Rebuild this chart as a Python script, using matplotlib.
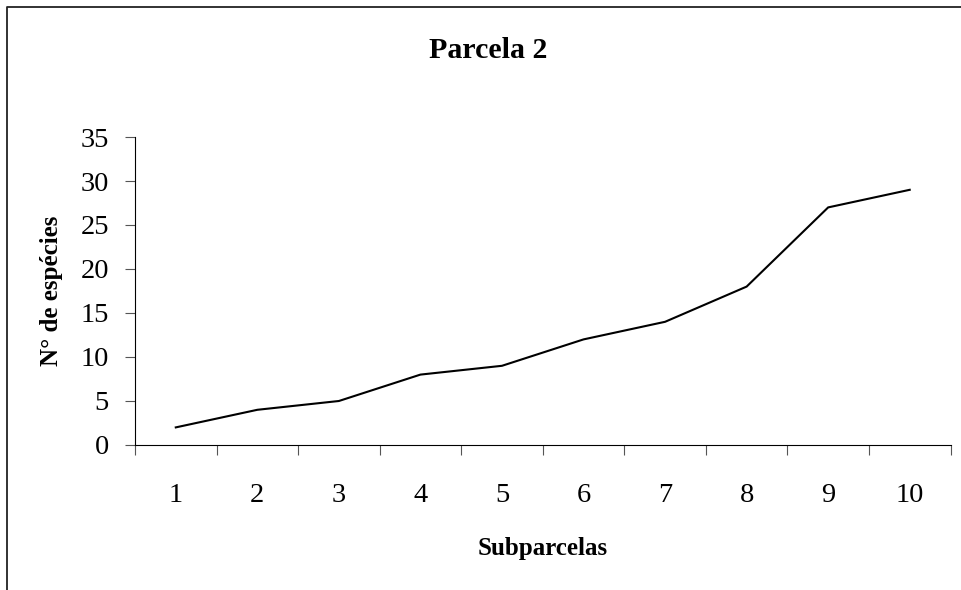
import matplotlib
matplotlib.use("Agg")
import matplotlib.pyplot as plt
from matplotlib.lines import Line2D
from matplotlib.ticker import FixedLocator, NullFormatter, FixedFormatter

plt.rcParams['font.family'] = ['Liberation Serif', 'DejaVu Serif']

title = "Parcela 2"
xlabel = "Subparcelas"
ylabel = "N° de espécies"
subparcelas = [1, 2, 3, 4, 5, 6, 7, 8, 9, 10]
especies = [2, 4, 5, 8, 9, 12, 14, 18, 27, 29]
yticks = [0, 5, 10, 15, 20, 25, 30, 35]

W, H = 961, 590
fig = plt.figure(figsize=(W / 100, H / 100), dpi=100)
fig.patch.set_facecolor('white')

left, right, top, bottom = 135, 950.5, 137, 445
ax = fig.add_axes([left / W, 1 - bottom / H, (right - left) / W, (bottom - top) / H])

ax.plot(subparcelas, especies, color='black', lw=1.5, solid_joinstyle='miter')

ax.set_xlim(0.5, 10.5)
ax.set_ylim(0, 35)

for s in ['top', 'right']:
    ax.spines[s].set_visible(False)
for s in ['left', 'bottom']:
    ax.spines[s].set_linewidth(0.8)
    ax.spines[s].set_color('black')

# x: boundary ticks (major, no labels), category labels (minor, no tick mark)
ax.xaxis.set_major_locator(FixedLocator([i + 0.5 for i in range(0, 11)]))
ax.xaxis.set_major_formatter(NullFormatter())
ax.xaxis.set_minor_locator(FixedLocator(subparcelas))
ax.xaxis.set_minor_formatter(FixedFormatter([str(v) for v in subparcelas]))
ax.tick_params(axis='x', which='major', direction='out', length=7.2, width=0.8, color='#555555')
ax.tick_params(axis='x', which='minor', length=0, pad=27.5, labelsize=20.5)

ax.set_yticks(yticks)
ax.set_yticklabels([str(v) for v in yticks])
ax.tick_params(axis='y', which='major', direction='out', length=7.2, width=0.8, color='#555555',
               pad=11.5, labelsize=20.5)

ax.set_xlabel(xlabel, fontsize=18, fontweight='bold')
ax.xaxis.set_label_coords(0.5, -0.30)
ax.set_ylabel(ylabel, fontsize=18, fontweight='bold')
ax.yaxis.set_label_coords((63 - left) / (right - left), 0.5)

fig.text(488 / W, 1 - 58 / H, title, ha='center', va='baseline', fontsize=21.5, fontweight='bold')

# chart area border (clipped at right and bottom)
bx, by = 6.7 / W, 1 - 6.7 / H
fig.add_artist(Line2D([bx, bx, 1.01], [-0.01, by, by], transform=fig.transFigure,
                      color='#222222', lw=1.3))

fig.savefig("out.png", dpi=100)
